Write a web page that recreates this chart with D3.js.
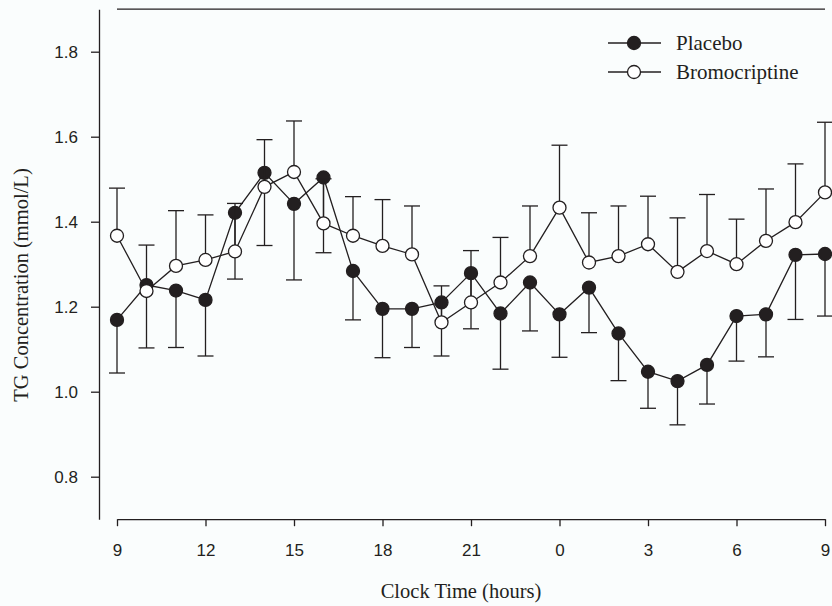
<!DOCTYPE html>
<html>
<head>
<meta charset="utf-8">
<script src="https://cdn.jsdelivr.net/npm/d3@7"></script>
<style>
  body { margin: 0; background: #fafdfd; }
  svg { display: block; }
  .axis path, .axis line { stroke: #231f20; stroke-width: 1.3; }
  .axis text { font-family: "Liberation Sans", Arial, sans-serif; font-size: 17px; fill: #231f20; }
  .title { font-family: "Liberation Serif", "Times New Roman", serif; fill: #231f20; }
</style>
</head>
<body>
<svg width="832" height="606"></svg>
<script>
// clock hours, 9 am through 9 am next day (24+ = next day)
const hours = d3.range(9, 34);
const xTicks = [9, 12, 15, 18, 21, 24, 27, 30, 33];
const yTicks = [0.8, 1.0, 1.2, 1.4, 1.6, 1.8];

const placeboMean = [1.169, 1.251, 1.238, 1.216, 1.421, 1.515, 1.442, 1.504, 1.284, 1.195, 1.195, 1.210, 1.279,
  1.184, 1.257, 1.182, 1.245, 1.137, 1.047, 1.025, 1.063, 1.178, 1.182, 1.322, 1.324];
const placeboSem = [0.125, 0.148, 0.134, 0.132, 0.156, 0.171, 0.179, 0.177, 0.115, 0.115, 0.091, 0.126, 0.131,
  0.131, 0.114, 0.101, 0.106, 0.111, 0.086, 0.103, 0.092, 0.106, 0.100, 0.152, 0.146];

const bromoMean = [1.367, 1.237, 1.296, 1.310, 1.330, 1.482, 1.517, 1.396, 1.367, 1.343, 1.323, 1.163, 1.210,
  1.257, 1.319, 1.433, 1.304, 1.319, 1.347, 1.282, 1.331, 1.300, 1.355, 1.399, 1.469];
const bromoSem = [0.112, 0.108, 0.130, 0.106, 0.113, 0.111, 0.120, 0.105, 0.092, 0.109, 0.114, 0.086, 0.122,
  0.106, 0.118, 0.147, 0.117, 0.118, 0.113, 0.127, 0.133, 0.106, 0.122, 0.137, 0.165];

const ink = "#231f20";
const svg = d3.select("svg");

const x = d3.scaleLinear().domain([9, 33]).range([117, 825]);
const y = d3.scaleLinear().domain([0.7, 1.9]).range([519.2, 9.2]);

// axes
svg.append("g")
  .attr("class", "axis")
  .attr("transform", "translate(99,0)")
  .call(d3.axisLeft(y).tickValues(yTicks).tickFormat(d3.format(".1f"))
    .tickSize(8).tickSizeOuter(0).tickPadding(13));

svg.append("g")
  .attr("class", "axis")
  .attr("transform", `translate(0,${y(0.7)})`)
  .call(d3.axisBottom(x).tickValues(xTicks).tickFormat(d => d % 24)
    .tickSize(7).tickSizeOuter(0).tickPadding(18));

// top frame line
svg.append("line")
  .attr("x1", x(9)).attr("x2", x(33))
  .attr("y1", y(1.9)).attr("y2", y(1.9))
  .attr("stroke", ink).attr("stroke-width", 1.3);

svg.append("text")
  .attr("class", "title")
  .attr("x", 461).attr("y", 598)
  .attr("text-anchor", "middle")
  .style("font-size", "20.5px")
  .text("Clock Time (hours)");

svg.append("text")
  .attr("class", "title")
  .attr("transform", "translate(28,285) rotate(-90)")
  .attr("text-anchor", "middle")
  .style("font-size", "20.5px")
  .text("TG Concentration (mmol/L)");

const line = d3.line()
  .x(d => x(d.h))
  .y(d => y(d.v));

function drawSeries(means, sems, dir, fill) {
  const data = hours.map((h, i) => ({ h, v: means[i], e: sems[i] }));
  const g = svg.append("g");

  g.append("path")
    .datum(data)
    .attr("d", line)
    .attr("fill", "none")
    .attr("stroke", ink)
    .attr("stroke-width", 1.3);

  // one-sided error bars: placebo down, bromocriptine up
  const bars = g.selectAll(".err").data(data).join("g").attr("class", "err");
  bars.append("line")
    .attr("x1", d => x(d.h)).attr("x2", d => x(d.h))
    .attr("y1", d => y(d.v)).attr("y2", d => y(d.v + dir * d.e))
    .attr("stroke", ink).attr("stroke-width", 1.3);
  bars.append("line")
    .attr("x1", d => x(d.h) - 8).attr("x2", d => x(d.h) + 8)
    .attr("y1", d => y(d.v + dir * d.e)).attr("y2", d => y(d.v + dir * d.e))
    .attr("stroke", ink).attr("stroke-width", 1.3);

  g.selectAll("circle").data(data).join("circle")
    .attr("cx", d => x(d.h))
    .attr("cy", d => y(d.v))
    .attr("r", 6.5)
    .attr("fill", fill)
    .attr("stroke", ink)
    .attr("stroke-width", 1.3);
}

drawSeries(placeboMean, placeboSem, -1, ink);
drawSeries(bromoMean, bromoSem, 1, "#ffffff");

// legend
const legend = [
  { label: "Placebo", fill: ink, y: 43 },
  { label: "Bromocriptine", fill: "#ffffff", y: 72 }
];
const lg = svg.selectAll(".legend").data(legend).join("g").attr("class", "legend");
lg.append("line")
  .attr("x1", 608).attr("x2", 661)
  .attr("y1", d => d.y).attr("y2", d => d.y)
  .attr("stroke", ink).attr("stroke-width", 1.3);
lg.append("circle")
  .attr("cx", 634).attr("cy", d => d.y).attr("r", 6.5)
  .attr("fill", d => d.fill).attr("stroke", ink).attr("stroke-width", 1.3);
lg.append("text")
  .attr("class", "title")
  .attr("x", 676).attr("y", d => d.y + 7)
  .style("font-size", "21px")
  .text(d => d.label);
</script>
</body>
</html>
